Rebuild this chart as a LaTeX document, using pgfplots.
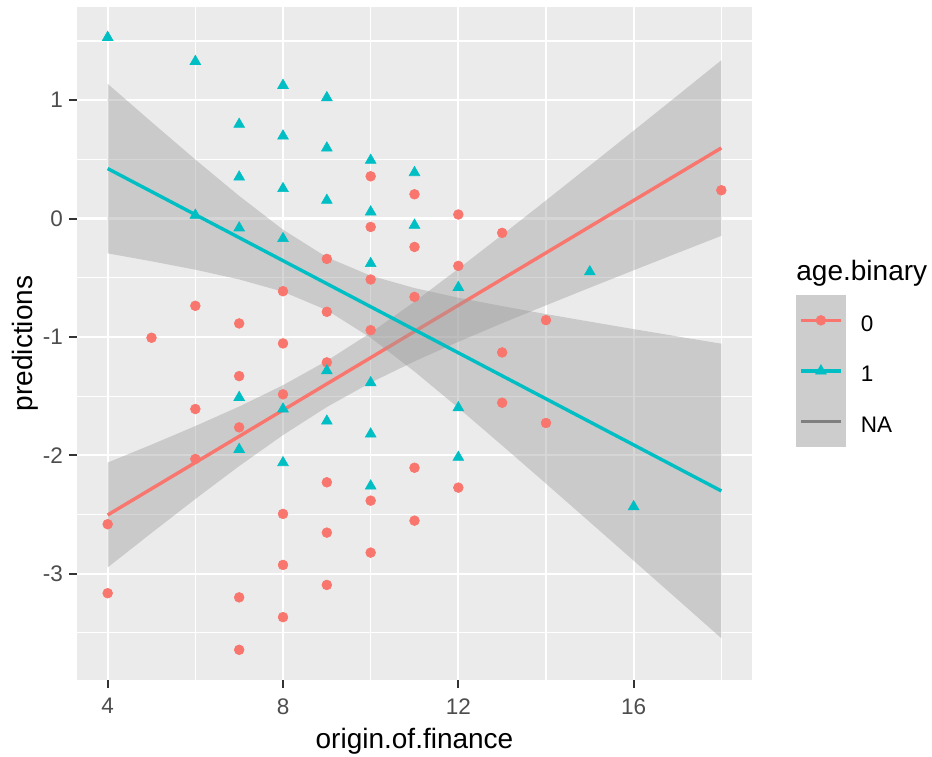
\documentclass[border=0pt]{standalone}
\usepackage{pgfplots}
\pgfplotsset{compat=1.18}
\usepackage{fontspec}
\setmainfont{Liberation Sans}
\definecolor{red0}{HTML}{F8766D}
\definecolor{teal1}{HTML}{00BFC4}
\definecolor{panel}{HTML}{EBEBEB}
\definecolor{keygray}{HTML}{CDCDCD}
\definecolor{ticklab}{HTML}{4D4D4D}
\definecolor{tickcol}{HTML}{333333}
\definecolor{nagray}{HTML}{7F7F7F}
\begin{document}
\begin{tikzpicture}
\begin{axis}[
  scale only axis, width=337.5bp, height=336.5bp,
  xmin=3.3, xmax=18.7, ymin=-3.898, ymax=1.787,
  axis background/.style={fill=panel},
  axis line style={draw=none},
  xtick={4,8,12,16}, xticklabels={4,8,12,16},
  minor xtick={6,10,14,18},
  ytick={-3,-2,-1,0,1}, yticklabels={-3,-2,-1,0,1},
  minor ytick={-3.5,-2.5,-1.5,-0.5,0.5,1.5},
  grid=both,
  major grid style={white, line width=1.1bp},
  minor grid style={white, line width=0.55bp},
  tick align=outside,
  major tick length=4bp, minor tick length=0pt,
  major tick style={tickcol, line width=1bp},
  xtick pos=left, ytick pos=left,
  ticklabel style={font=\fontsize{11.25bp}{13bp}\selectfont, text=ticklab, inner sep=0pt},
  xticklabel style={yshift=-5bp},
  yticklabel style={xshift=-2.8bp},
  xlabel={origin.of.finance},
  xlabel style={at={(axis description cs:0.5,-0.0906)}, anchor=center, inner sep=0pt, font=\fontsize{14bp}{16bp}\selectfont},
  ylabel={predictions},
  ylabel style={at={(axis description cs:-0.0763,0.5)}, anchor=center, inner sep=0pt, font=\fontsize{14bp}{16bp}\selectfont},
  legend style={at={(axis description cs:1.0652,0.572)}, anchor=north west, draw=none, fill=none,
    inner sep=0pt, outer sep=0pt, row sep=0pt, column sep=7.5bp,
    nodes={inner sep=0pt, outer sep=0pt, text depth=0pt},
    font=\fontsize{11.25bp}{13bp}\selectfont, text=black},
  legend cell align=left,
]
% points
\addplot[only marks, mark=*, red0, mark size=2.45bp, mark options={line width=0.3bp}, forget plot] coordinates {
(4,-2.582) (4,-3.165) (5,-1.007) (6,-0.737) (6,-1.609) (6,-2.031)
(7,-0.886) (7,-1.331) (7,-1.764) (7,-3.2) (7,-3.643)
(8,-0.614) (8,-1.055) (8,-1.485) (8,-2.495) (8,-2.926) (8,-3.367)
(9,-0.341) (9,-0.788) (9,-1.215) (9,-2.228) (9,-2.653) (9,-3.095)
(10,0.357) (10,-0.071) (10,-0.515) (10,-0.943) (10,-2.383) (10,-2.822)
(11,0.205) (11,-0.24) (11,-0.662) (11,-2.105) (11,-2.552)
(12,0.034) (12,-0.4) (12,-2.273)
(13,-0.121) (13,-1.131) (13,-1.556)
(14,-0.858) (14,-1.727) (18,0.239)
};
\addplot[only marks, mark=triangle*, teal1, mark size=3.1bp, mark options={line width=0.3bp}, forget plot] coordinates {
(4,1.53) (6,1.327) (6,0.028)
(7,0.796) (7,0.351) (7,-0.079) (7,-1.511) (7,-1.95)
(8,1.125) (8,0.697) (8,0.253) (8,-0.169) (8,-1.609) (8,-2.062)
(9,1.021) (9,0.596) (9,0.154) (9,-1.286) (9,-1.711)
(10,0.492) (10,0.056) (10,-0.38) (10,-1.387) (10,-1.82) (10,-2.259)
(11,0.388) (11,-0.056)
(12,-0.582) (12,-1.598) (12,-2.017)
(15,-0.45) (16,-2.434)
};
% ribbon group 0
\addplot[draw=none, fill=black!40, fill opacity=0.4, forget plot] coordinates {
(4,-2.061) (5,-1.910) (6,-1.753) (7,-1.588) (8,-1.408) (9,-1.202) (10,-0.965) (11,-0.703)
(12,-0.425) (13,-0.138) (14,0.153) (15,0.447) (16,0.742) (17,1.039) (18,1.337)
(18,-0.146) (17,-0.291) (16,-0.437) (15,-0.584) (14,-0.733) (13,-0.884) (12,-1.041)
(11,-1.206) (10,-1.386) (9,-1.592) (8,-1.829) (7,-2.091) (6,-2.369) (5,-2.656) (4,-2.947)
} -- cycle;
\addplot[red0, line width=1.7bp, forget plot] coordinates {(4,-2.504) (18,0.596)};
% ribbon group 1
\addplot[draw=none, fill=black!40, fill opacity=0.4, forget plot] coordinates {
(4,1.138) (5,0.816) (6,0.498) (7,0.191) (8,-0.094) (9,-0.327) (10,-0.483) (11,-0.587)
(12,-0.669) (13,-0.740) (14,-0.807) (15,-0.871) (16,-0.934) (17,-0.996) (18,-1.057)
(18,-3.545) (17,-3.217) (16,-2.890) (15,-2.564) (14,-2.239) (13,-1.917) (12,-1.599)
(11,-1.292) (10,-1.007) (9,-0.774) (8,-0.618) (7,-0.514) (6,-0.432) (5,-0.361) (4,-0.294)
} -- cycle;
\addplot[teal1, line width=1.7bp, forget plot] coordinates {(4,0.422) (18,-2.301)};
% legend
\addlegendimage{red0, line width=1.7bp, mark=*, mark size=2.45bp, mark options={line width=0.3bp},
  legend image code/.code={
    \fill[keygray] (0bp,-11.8bp) rectangle (23.2bp,11.8bp);
    \draw (1.65bp,0bp) -- (21.55bp,0bp);
    \draw plot coordinates {(11.6bp,0bp)};
  }}
\addlegendentry[yshift=-1.5bp]{0}
\addlegendimage{teal1, line width=1.7bp, mark=triangle*, mark size=3.1bp, mark options={line width=0.3bp},
  legend image code/.code={
    \fill[keygray] (0bp,-11.8bp) rectangle (23.2bp,11.8bp);
    \draw (1.65bp,0bp) -- (21.55bp,0bp);
    \draw plot coordinates {(11.6bp,0bp)};
  }}
\addlegendentry[yshift=-1.5bp]{1}
\addlegendimage{nagray, line width=1.7bp,
  legend image code/.code={
    \fill[keygray] (0bp,-11.8bp) rectangle (23.2bp,11.8bp);
    \draw (1.65bp,0bp) -- (21.55bp,0bp);
  }}
\addlegendentry[yshift=-1.5bp]{NA}
\coordinate (legT) at (axis description cs:1.0652,0.6043);
\coordinate (bbSW) at (axis description cs:-0.11407,-0.11441);
\coordinate (bbNE) at (axis description cs:1.26667,1.0104);
\end{axis}
\node[anchor=west, inner sep=0pt, font=\fontsize{14bp}{16bp}\selectfont] at (legT) {age.binary};
\pgfresetboundingbox
\path[use as bounding box] (bbSW) rectangle (bbNE);
\end{tikzpicture}
\end{document}
